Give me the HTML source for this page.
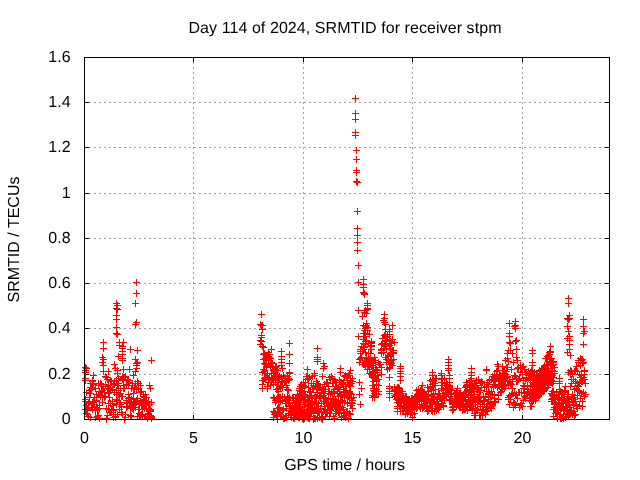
<!DOCTYPE html>
<html><head><meta charset="utf-8"><title>Day 114 of 2024, SRMTID for receiver stpm</title>
<style>
html,body{margin:0;padding:0;background:#fff;}
body{width:640px;height:480px;overflow:hidden;}
svg{display:block;}
text{font-family:"Liberation Sans",Arial,sans-serif;font-size:16px;fill:#000;text-rendering:geometricPrecision;}
</style></head><body>
<svg width="640" height="480" viewBox="0 0 640 480">
<rect width="640" height="480" fill="#fff"/>

<g stroke="#a0a0a0" stroke-width="1" stroke-dasharray="2 3" shape-rendering="crispEdges" fill="none">
<path d="M84,374.5H609"/>
<path d="M84,328.5H609"/>
<path d="M84,283.5H609"/>
<path d="M84,238.5H609"/>
<path d="M84,193.5H609"/>
<path d="M84,147.5H609"/>
<path d="M84,102.5H609"/>
<path d="M193.5,57V419"/>
<path d="M303.5,57V419"/>
<path d="M412.5,57V419"/>
<path d="M522.5,57V419"/>
</g>
<g stroke="#000" stroke-width="1" shape-rendering="crispEdges" fill="none">
<path d="M84,419.5h5M610,419.5h-5"/>
<path d="M84,374.5h5M610,374.5h-5"/>
<path d="M84,328.5h5M610,328.5h-5"/>
<path d="M84,283.5h5M610,283.5h-5"/>
<path d="M84,238.5h5M610,238.5h-5"/>
<path d="M84,193.5h5M610,193.5h-5"/>
<path d="M84,147.5h5M610,147.5h-5"/>
<path d="M84,102.5h5M610,102.5h-5"/>
<path d="M84,57.5h5M610,57.5h-5"/>
<path d="M84.5,420v-5M84.5,57v5"/>
<path d="M193.5,420v-5M193.5,57v5"/>
<path d="M303.5,420v-5M303.5,57v5"/>
<path d="M412.5,420v-5M412.5,57v5"/>
<path d="M522.5,420v-5M522.5,57v5"/>
</g>
<g stroke="#f00" stroke-width="1" shape-rendering="crispEdges" fill="none"><path d="
M82,367.5h7M85.5,364v7M82,370.5h7M85.5,367v7M82,372.5h7M85.5,369v7M82,378.5h7M85.5,375v7M82,380.5h7M85.5,377v7M82,399.5h7M85.5,396v7M82,401.5h7M85.5,398v7M82,409.5h7M85.5,406v7M83,368.5h7M86.5,365v7M83,392.5h7M86.5,389v7M83,405.5h7M86.5,402v7M83,413.5h7M86.5,410v7M84,408.5h7M87.5,405v7M84,410.5h7M87.5,407v7M84,414.5h7M87.5,411v7M85,402.5h7M88.5,399v7M85,403.5h7M88.5,400v7M85,416.5h7M88.5,413v7M86,390.5h7M89.5,387v7M86,397.5h7M89.5,394v7M86,402.5h7M89.5,399v7M87,383.5h7M90.5,380v7M87,387.5h7M90.5,384v7M87,393.5h7M90.5,390v7M87,417.5h7M90.5,414v7M88,387.5h7M91.5,384v7M88,389.5h7M91.5,386v7M88,407.5h7M91.5,404v7M89,380.5h7M92.5,377v7M89,381.5h7M92.5,378v7M89,383.5h7M92.5,380v7M89,402.5h7M92.5,399v7M89,409.5h7M92.5,406v7M90,375.5h7M93.5,372v7M90,384.5h7M93.5,381v7M90,401.5h7M93.5,398v7M90,404.5h7M93.5,401v7M91,397.5h7M94.5,394v7M91,404.5h7M94.5,401v7M91,406.5h7M94.5,403v7M92,388.5h7M95.5,385v7M92,410.5h7M95.5,407v7M92,417.5h7M95.5,414v7M93,394.5h7M96.5,391v7M93,400.5h7M96.5,397v7M93,401.5h7M96.5,398v7M93,407.5h7M96.5,404v7M94,409.5h7M97.5,406v7M94,416.5h7M97.5,413v7M95,383.5h7M98.5,380v7M95,385.5h7M98.5,382v7M95,394.5h7M98.5,391v7M95,415.5h7M98.5,412v7M96,391.5h7M99.5,388v7M96,405.5h7M99.5,402v7M96,408.5h7M99.5,405v7M96,418.5h7M99.5,415v7M97,383.5h7M100.5,380v7M97,395.5h7M100.5,392v7M97,396.5h7M100.5,393v7M98,384.5h7M101.5,381v7M98,391.5h7M101.5,388v7M98,392.5h7M101.5,389v7M99,357.5h7M102.5,354v7M99,362.5h7M102.5,359v7M99,390.5h7M102.5,387v7M99,397.5h7M102.5,394v7M99,402.5h7M102.5,399v7M100,342.5h7M103.5,339v7M100,348.5h7M103.5,345v7M100,359.5h7M103.5,356v7M100,365.5h7M103.5,362v7M100,371.5h7M103.5,368v7M100,386.5h7M103.5,383v7M101,392.5h7M104.5,389v7M101,397.5h7M104.5,394v7M102,376.5h7M105.5,373v7M102,384.5h7M105.5,381v7M102,396.5h7M105.5,393v7M103,377.5h7M106.5,374v7M103,408.5h7M106.5,405v7M103,418.5h7M106.5,415v7M103,419.5h7M106.5,416v7M104,379.5h7M107.5,376v7M104,388.5h7M107.5,385v7M104,415.5h7M107.5,412v7M105,371.5h7M108.5,368v7M105,385.5h7M108.5,382v7M105,393.5h7M108.5,390v7M105,403.5h7M108.5,400v7M105,409.5h7M108.5,406v7M106,388.5h7M109.5,385v7M106,389.5h7M109.5,386v7M106,397.5h7M109.5,394v7M106,412.5h7M109.5,409v7M107,380.5h7M110.5,377v7M107,387.5h7M110.5,384v7M107,390.5h7M110.5,387v7M107,403.5h7M110.5,400v7M107,412.5h7M110.5,409v7M108,381.5h7M111.5,378v7M108,409.5h7M111.5,406v7M108,412.5h7M111.5,409v7M109,389.5h7M112.5,386v7M109,401.5h7M112.5,398v7M109,403.5h7M112.5,400v7M109,405.5h7M112.5,402v7M110,383.5h7M113.5,380v7M110,409.5h7M113.5,406v7M110,410.5h7M113.5,407v7M110,417.5h7M113.5,414v7M111,364.5h7M114.5,361v7M111,381.5h7M114.5,378v7M111,384.5h7M114.5,381v7M111,392.5h7M114.5,389v7M112,368.5h7M115.5,365v7M112,414.5h7M115.5,411v7M112,416.5h7M115.5,413v7M112,417.5h7M115.5,414v7M113,303.5h7M116.5,300v7M113,308.5h7M116.5,305v7M113,315.5h7M116.5,312v7M113,319.5h7M116.5,316v7M113,327.5h7M116.5,324v7M113,333.5h7M116.5,330v7M113,380.5h7M116.5,377v7M113,390.5h7M116.5,387v7M113,394.5h7M116.5,391v7M113,399.5h7M116.5,396v7M113,404.5h7M116.5,401v7M114,305.5h7M117.5,302v7M114,309.5h7M117.5,306v7M114,334.5h7M117.5,331v7M114,370.5h7M117.5,367v7M114,373.5h7M117.5,370v7M114,385.5h7M117.5,382v7M114,400.5h7M117.5,397v7M114,414.5h7M117.5,411v7M115,356.5h7M118.5,353v7M115,378.5h7M118.5,375v7M115,383.5h7M118.5,380v7M115,390.5h7M118.5,387v7M115,394.5h7M118.5,391v7M116,342.5h7M119.5,339v7M116,345.5h7M119.5,342v7M116,395.5h7M119.5,392v7M116,402.5h7M119.5,399v7M116,409.5h7M119.5,406v7M117,388.5h7M120.5,385v7M117,393.5h7M120.5,390v7M117,404.5h7M120.5,401v7M118,396.5h7M121.5,393v7M118,406.5h7M121.5,403v7M118,412.5h7M121.5,409v7M119,346.5h7M122.5,343v7M119,348.5h7M122.5,345v7M119,351.5h7M122.5,348v7M119,354.5h7M122.5,351v7M119,358.5h7M122.5,355v7M119,360.5h7M122.5,357v7M119,376.5h7M122.5,373v7M119,379.5h7M122.5,376v7M119,396.5h7M122.5,393v7M119,414.5h7M122.5,411v7M120,342.5h7M123.5,339v7M120,369.5h7M123.5,366v7M120,377.5h7M123.5,374v7M120,380.5h7M123.5,377v7M120,385.5h7M123.5,382v7M120,388.5h7M123.5,385v7M121,377.5h7M124.5,374v7M121,388.5h7M124.5,385v7M121,419.5h7M124.5,416v7M122,376.5h7M125.5,373v7M122,414.5h7M125.5,411v7M122,417.5h7M125.5,414v7M123,384.5h7M126.5,381v7M123,400.5h7M126.5,397v7M123,402.5h7M126.5,399v7M123,407.5h7M126.5,404v7M124,379.5h7M127.5,376v7M124,380.5h7M127.5,377v7M124,403.5h7M127.5,400v7M124,406.5h7M127.5,403v7M125,380.5h7M128.5,377v7M125,385.5h7M128.5,382v7M125,394.5h7M128.5,391v7M125,398.5h7M128.5,395v7M125,400.5h7M128.5,397v7M126,369.5h7M129.5,366v7M126,382.5h7M129.5,379v7M126,397.5h7M129.5,394v7M126,403.5h7M129.5,400v7M127,349.5h7M130.5,346v7M127,402.5h7M130.5,399v7M127,405.5h7M130.5,402v7M127,408.5h7M130.5,405v7M127,415.5h7M130.5,412v7M128,388.5h7M131.5,385v7M128,399.5h7M131.5,396v7M128,407.5h7M131.5,404v7M128,416.5h7M131.5,413v7M129,383.5h7M132.5,380v7M129,385.5h7M132.5,382v7M129,405.5h7M132.5,402v7M129,408.5h7M132.5,405v7M130,375.5h7M133.5,372v7M130,393.5h7M133.5,390v7M130,398.5h7M133.5,395v7M130,401.5h7M133.5,398v7M130,409.5h7M133.5,406v7M131,387.5h7M134.5,384v7M131,389.5h7M134.5,386v7M131,404.5h7M134.5,401v7M132,303.5h7M135.5,300v7M132,324.5h7M135.5,321v7M132,359.5h7M135.5,356v7M132,371.5h7M135.5,368v7M132,383.5h7M135.5,380v7M132,402.5h7M135.5,399v7M132,407.5h7M135.5,404v7M133,282.5h7M136.5,279v7M133,293.5h7M136.5,290v7M133,322.5h7M136.5,319v7M133,363.5h7M136.5,360v7M133,365.5h7M136.5,362v7M133,368.5h7M136.5,365v7M133,388.5h7M136.5,385v7M133,389.5h7M136.5,386v7M133,400.5h7M136.5,397v7M133,402.5h7M136.5,399v7M134,350.5h7M137.5,347v7M134,362.5h7M137.5,359v7M134,381.5h7M137.5,378v7M134,398.5h7M137.5,395v7M134,416.5h7M137.5,413v7M135,383.5h7M138.5,380v7M135,389.5h7M138.5,386v7M135,409.5h7M138.5,406v7M136,403.5h7M139.5,400v7M136,409.5h7M139.5,406v7M136,413.5h7M139.5,410v7M136,416.5h7M139.5,413v7M137,385.5h7M140.5,382v7M137,392.5h7M140.5,389v7M137,401.5h7M140.5,398v7M137,415.5h7M140.5,412v7M138,391.5h7M141.5,388v7M138,404.5h7M141.5,401v7M138,414.5h7M141.5,411v7M139,409.5h7M142.5,406v7M139,415.5h7M142.5,412v7M139,416.5h7M142.5,413v7M140,396.5h7M143.5,393v7M140,399.5h7M143.5,396v7M140,405.5h7M143.5,402v7M141,397.5h7M144.5,394v7M141,400.5h7M144.5,397v7M141,405.5h7M144.5,402v7M141,408.5h7M144.5,405v7M142,394.5h7M145.5,391v7M142,401.5h7M145.5,398v7M142,402.5h7M145.5,399v7M142,404.5h7M145.5,401v7M143,397.5h7M146.5,394v7M143,403.5h7M146.5,400v7M143,408.5h7M146.5,405v7M144,414.5h7M147.5,411v7M144,417.5h7M147.5,414v7M144,418.5h7M147.5,415v7M145,401.5h7M148.5,398v7M145,408.5h7M148.5,405v7M145,413.5h7M148.5,410v7M146,385.5h7M149.5,382v7M146,404.5h7M149.5,401v7M146,411.5h7M149.5,408v7M146,416.5h7M149.5,413v7M147,388.5h7M150.5,385v7M147,409.5h7M150.5,406v7M147,410.5h7M150.5,407v7M147,411.5h7M150.5,408v7M147,415.5h7M150.5,412v7M148,360.5h7M151.5,357v7M148,402.5h7M151.5,399v7M148,416.5h7M151.5,413v7M148,417.5h7M151.5,414v7M148,418.5h7M151.5,415v7M257,324.5h7M260.5,321v7M257,340.5h7M260.5,337v7M257,344.5h7M260.5,341v7M258,314.5h7M261.5,311v7M258,325.5h7M261.5,322v7M258,335.5h7M261.5,332v7M258,337.5h7M261.5,334v7M258,341.5h7M261.5,338v7M259,325.5h7M262.5,322v7M259,329.5h7M262.5,326v7M259,346.5h7M262.5,343v7M259,372.5h7M262.5,369v7M259,380.5h7M262.5,377v7M259,384.5h7M262.5,381v7M259,388.5h7M262.5,385v7M260,347.5h7M263.5,344v7M260,354.5h7M263.5,351v7M260,359.5h7M263.5,356v7M260,369.5h7M263.5,366v7M260,380.5h7M263.5,377v7M261,353.5h7M264.5,350v7M261,363.5h7M264.5,360v7M261,371.5h7M264.5,368v7M261,378.5h7M264.5,375v7M262,358.5h7M265.5,355v7M262,364.5h7M265.5,361v7M262,373.5h7M265.5,370v7M262,377.5h7M265.5,374v7M262,378.5h7M265.5,375v7M263,360.5h7M266.5,357v7M263,364.5h7M266.5,361v7M263,367.5h7M266.5,364v7M263,377.5h7M266.5,374v7M264,355.5h7M267.5,352v7M264,357.5h7M267.5,354v7M264,373.5h7M267.5,370v7M264,386.5h7M267.5,383v7M264,388.5h7M267.5,385v7M265,352.5h7M268.5,349v7M265,356.5h7M268.5,353v7M265,360.5h7M268.5,357v7M265,378.5h7M268.5,375v7M265,382.5h7M268.5,379v7M266,354.5h7M269.5,351v7M266,357.5h7M269.5,354v7M266,377.5h7M269.5,374v7M266,379.5h7M269.5,376v7M267,358.5h7M270.5,355v7M267,365.5h7M270.5,362v7M267,366.5h7M270.5,363v7M267,367.5h7M270.5,364v7M267,385.5h7M270.5,382v7M268,349.5h7M271.5,346v7M268,362.5h7M271.5,359v7M268,373.5h7M271.5,370v7M268,377.5h7M271.5,374v7M268,380.5h7M271.5,377v7M269,363.5h7M272.5,360v7M269,367.5h7M272.5,364v7M269,378.5h7M272.5,375v7M270,370.5h7M273.5,367v7M270,373.5h7M273.5,370v7M270,382.5h7M273.5,379v7M270,384.5h7M273.5,381v7M270,397.5h7M273.5,394v7M270,411.5h7M273.5,408v7M270,417.5h7M273.5,414v7M271,369.5h7M274.5,366v7M271,371.5h7M274.5,368v7M271,373.5h7M274.5,370v7M271,377.5h7M274.5,374v7M271,398.5h7M274.5,395v7M271,412.5h7M274.5,409v7M271,414.5h7M274.5,411v7M272,367.5h7M275.5,364v7M272,369.5h7M275.5,366v7M272,372.5h7M275.5,369v7M272,380.5h7M275.5,377v7M272,400.5h7M275.5,397v7M272,402.5h7M275.5,399v7M272,413.5h7M275.5,410v7M273,366.5h7M276.5,363v7M273,370.5h7M276.5,367v7M273,377.5h7M276.5,374v7M273,389.5h7M276.5,386v7M273,399.5h7M276.5,396v7M273,400.5h7M276.5,397v7M273,415.5h7M276.5,412v7M274,370.5h7M277.5,367v7M274,376.5h7M277.5,373v7M274,382.5h7M277.5,379v7M274,389.5h7M277.5,386v7M274,397.5h7M277.5,394v7M274,408.5h7M277.5,405v7M274,419.5h7M277.5,416v7M275,377.5h7M278.5,374v7M275,385.5h7M278.5,382v7M275,388.5h7M278.5,385v7M275,391.5h7M278.5,388v7M275,398.5h7M278.5,395v7M275,402.5h7M278.5,399v7M275,408.5h7M278.5,405v7M276,376.5h7M279.5,373v7M276,378.5h7M279.5,375v7M276,379.5h7M279.5,376v7M276,397.5h7M279.5,394v7M276,407.5h7M279.5,404v7M276,412.5h7M279.5,409v7M277,386.5h7M280.5,383v7M277,387.5h7M280.5,384v7M277,397.5h7M280.5,394v7M277,401.5h7M280.5,398v7M277,414.5h7M280.5,411v7M278,351.5h7M281.5,348v7M278,356.5h7M281.5,353v7M278,359.5h7M281.5,356v7M278,362.5h7M281.5,359v7M278,365.5h7M281.5,362v7M278,377.5h7M281.5,374v7M278,381.5h7M281.5,378v7M278,416.5h7M281.5,413v7M279,368.5h7M282.5,365v7M279,385.5h7M282.5,382v7M279,387.5h7M282.5,384v7M279,396.5h7M282.5,393v7M279,400.5h7M282.5,397v7M279,410.5h7M282.5,407v7M280,375.5h7M283.5,372v7M280,409.5h7M283.5,406v7M280,417.5h7M283.5,414v7M280,418.5h7M283.5,415v7M281,380.5h7M284.5,377v7M281,382.5h7M284.5,379v7M281,397.5h7M284.5,394v7M281,418.5h7M284.5,415v7M282,380.5h7M285.5,377v7M282,381.5h7M285.5,378v7M282,399.5h7M285.5,396v7M282,403.5h7M285.5,400v7M282,417.5h7M285.5,414v7M283,381.5h7M286.5,378v7M283,385.5h7M286.5,382v7M283,401.5h7M286.5,398v7M283,408.5h7M286.5,405v7M283,417.5h7M286.5,414v7M284,376.5h7M287.5,373v7M284,389.5h7M287.5,386v7M284,396.5h7M287.5,393v7M284,398.5h7M287.5,395v7M284,399.5h7M287.5,396v7M285,378.5h7M288.5,375v7M285,380.5h7M288.5,377v7M285,390.5h7M288.5,387v7M285,398.5h7M288.5,395v7M285,403.5h7M288.5,400v7M285,413.5h7M288.5,410v7M286,343.5h7M289.5,340v7M286,354.5h7M289.5,351v7M286,363.5h7M289.5,360v7M286,372.5h7M289.5,369v7M286,373.5h7M289.5,370v7M286,379.5h7M289.5,376v7M286,397.5h7M289.5,394v7M286,400.5h7M289.5,397v7M286,402.5h7M289.5,399v7M286,406.5h7M289.5,403v7M286,410.5h7M289.5,407v7M287,405.5h7M290.5,402v7M287,406.5h7M290.5,403v7M287,410.5h7M290.5,407v7M287,413.5h7M290.5,410v7M287,415.5h7M290.5,412v7M288,410.5h7M291.5,407v7M288,411.5h7M291.5,408v7M288,414.5h7M291.5,411v7M288,417.5h7M291.5,414v7M289,397.5h7M292.5,394v7M289,406.5h7M292.5,403v7M289,407.5h7M292.5,404v7M289,408.5h7M292.5,405v7M289,411.5h7M292.5,408v7M290,397.5h7M293.5,394v7M290,400.5h7M293.5,397v7M290,409.5h7M293.5,406v7M290,415.5h7M293.5,412v7M290,418.5h7M293.5,415v7M291,403.5h7M294.5,400v7M291,406.5h7M294.5,403v7M291,411.5h7M294.5,408v7M291,414.5h7M294.5,411v7M291,418.5h7M294.5,415v7M292,398.5h7M295.5,395v7M292,400.5h7M295.5,397v7M292,402.5h7M295.5,399v7M292,410.5h7M295.5,407v7M293,398.5h7M296.5,395v7M293,401.5h7M296.5,398v7M293,406.5h7M296.5,403v7M293,414.5h7M296.5,411v7M293,416.5h7M296.5,413v7M294,394.5h7M297.5,391v7M294,400.5h7M297.5,397v7M294,403.5h7M297.5,400v7M294,404.5h7M297.5,401v7M294,411.5h7M297.5,408v7M295,397.5h7M298.5,394v7M295,398.5h7M298.5,395v7M295,406.5h7M298.5,403v7M295,415.5h7M298.5,412v7M295,417.5h7M298.5,414v7M296,388.5h7M299.5,385v7M296,390.5h7M299.5,387v7M296,398.5h7M299.5,395v7M296,402.5h7M299.5,399v7M296,411.5h7M299.5,408v7M296,413.5h7M299.5,410v7M296,417.5h7M299.5,414v7M297,386.5h7M300.5,383v7M297,391.5h7M300.5,388v7M297,393.5h7M300.5,390v7M297,404.5h7M300.5,401v7M297,406.5h7M300.5,403v7M297,410.5h7M300.5,407v7M297,413.5h7M300.5,410v7M297,415.5h7M300.5,412v7M298,384.5h7M301.5,381v7M298,390.5h7M301.5,387v7M298,398.5h7M301.5,395v7M298,399.5h7M301.5,396v7M298,409.5h7M301.5,406v7M298,414.5h7M301.5,411v7M298,415.5h7M301.5,412v7M299,388.5h7M302.5,385v7M299,391.5h7M302.5,388v7M299,394.5h7M302.5,391v7M299,407.5h7M302.5,404v7M299,409.5h7M302.5,406v7M299,410.5h7M302.5,407v7M299,418.5h7M302.5,415v7M300,382.5h7M303.5,379v7M300,385.5h7M303.5,382v7M300,394.5h7M303.5,391v7M300,400.5h7M303.5,397v7M300,412.5h7M303.5,409v7M300,416.5h7M303.5,413v7M300,419.5h7M303.5,416v7M301,386.5h7M304.5,383v7M301,394.5h7M304.5,391v7M301,399.5h7M304.5,396v7M301,406.5h7M304.5,403v7M301,410.5h7M304.5,407v7M301,416.5h7M304.5,413v7M301,418.5h7M304.5,415v7M302,382.5h7M305.5,379v7M302,395.5h7M305.5,392v7M302,396.5h7M305.5,393v7M302,397.5h7M305.5,394v7M302,402.5h7M305.5,399v7M302,415.5h7M305.5,412v7M303,376.5h7M306.5,373v7M303,411.5h7M306.5,408v7M303,412.5h7M306.5,409v7M303,414.5h7M306.5,411v7M303,415.5h7M306.5,412v7M303,416.5h7M306.5,413v7M304,369.5h7M307.5,366v7M304,376.5h7M307.5,373v7M304,379.5h7M307.5,376v7M304,400.5h7M307.5,397v7M304,402.5h7M307.5,399v7M304,406.5h7M307.5,403v7M304,417.5h7M307.5,414v7M305,378.5h7M308.5,375v7M305,387.5h7M308.5,384v7M305,401.5h7M308.5,398v7M305,405.5h7M308.5,402v7M305,413.5h7M308.5,410v7M305,418.5h7M308.5,415v7M306,377.5h7M309.5,374v7M306,391.5h7M309.5,388v7M306,397.5h7M309.5,394v7M306,404.5h7M309.5,401v7M306,408.5h7M309.5,405v7M306,412.5h7M309.5,409v7M306,418.5h7M309.5,415v7M307,391.5h7M310.5,388v7M307,392.5h7M310.5,389v7M307,405.5h7M310.5,402v7M307,407.5h7M310.5,404v7M307,411.5h7M310.5,408v7M307,416.5h7M310.5,413v7M308,383.5h7M311.5,380v7M308,396.5h7M311.5,393v7M308,398.5h7M311.5,395v7M308,403.5h7M311.5,400v7M308,409.5h7M311.5,406v7M308,412.5h7M311.5,409v7M309,376.5h7M312.5,373v7M309,389.5h7M312.5,386v7M309,401.5h7M312.5,398v7M309,404.5h7M312.5,401v7M309,408.5h7M312.5,405v7M310,385.5h7M313.5,382v7M310,387.5h7M313.5,384v7M310,413.5h7M313.5,410v7M310,416.5h7M313.5,413v7M310,419.5h7M313.5,416v7M311,373.5h7M314.5,370v7M311,375.5h7M314.5,372v7M311,397.5h7M314.5,394v7M311,408.5h7M314.5,405v7M311,418.5h7M314.5,415v7M312,386.5h7M315.5,383v7M312,395.5h7M315.5,392v7M312,397.5h7M315.5,394v7M312,409.5h7M315.5,406v7M312,418.5h7M315.5,415v7M313,381.5h7M316.5,378v7M313,388.5h7M316.5,385v7M313,397.5h7M316.5,394v7M313,402.5h7M316.5,399v7M313,410.5h7M316.5,407v7M314,348.5h7M317.5,345v7M314,357.5h7M317.5,354v7M314,359.5h7M317.5,356v7M314,361.5h7M317.5,358v7M314,383.5h7M317.5,380v7M314,392.5h7M317.5,389v7M314,406.5h7M317.5,403v7M314,412.5h7M317.5,409v7M314,418.5h7M317.5,415v7M315,384.5h7M318.5,381v7M315,387.5h7M318.5,384v7M315,403.5h7M318.5,400v7M315,408.5h7M318.5,405v7M315,412.5h7M318.5,409v7M316,387.5h7M319.5,384v7M316,395.5h7M319.5,392v7M316,396.5h7M319.5,393v7M316,412.5h7M319.5,409v7M316,417.5h7M319.5,414v7M317,387.5h7M320.5,384v7M317,397.5h7M320.5,394v7M317,398.5h7M320.5,395v7M317,408.5h7M320.5,405v7M318,392.5h7M321.5,389v7M318,393.5h7M321.5,390v7M318,403.5h7M321.5,400v7M318,411.5h7M321.5,408v7M318,418.5h7M321.5,415v7M319,376.5h7M322.5,373v7M319,388.5h7M322.5,385v7M319,416.5h7M322.5,413v7M319,417.5h7M322.5,414v7M319,419.5h7M322.5,416v7M320,363.5h7M323.5,360v7M320,368.5h7M323.5,365v7M320,389.5h7M323.5,386v7M320,395.5h7M323.5,392v7M320,401.5h7M323.5,398v7M320,411.5h7M323.5,408v7M321,366.5h7M324.5,363v7M321,384.5h7M324.5,381v7M321,393.5h7M324.5,390v7M321,397.5h7M324.5,394v7M321,406.5h7M324.5,403v7M321,409.5h7M324.5,406v7M322,389.5h7M325.5,386v7M322,398.5h7M325.5,395v7M322,409.5h7M325.5,406v7M322,416.5h7M325.5,413v7M323,382.5h7M326.5,379v7M323,402.5h7M326.5,399v7M323,412.5h7M326.5,409v7M323,413.5h7M326.5,410v7M324,383.5h7M327.5,380v7M324,403.5h7M327.5,400v7M324,406.5h7M327.5,403v7M324,413.5h7M327.5,410v7M325,386.5h7M328.5,383v7M325,391.5h7M328.5,388v7M325,398.5h7M328.5,395v7M325,403.5h7M328.5,400v7M325,405.5h7M328.5,402v7M326,377.5h7M329.5,374v7M326,391.5h7M329.5,388v7M326,406.5h7M329.5,403v7M326,410.5h7M329.5,407v7M326,416.5h7M329.5,413v7M327,379.5h7M330.5,376v7M327,394.5h7M330.5,391v7M327,399.5h7M330.5,396v7M327,410.5h7M330.5,407v7M327,413.5h7M330.5,410v7M328,376.5h7M331.5,373v7M328,392.5h7M331.5,389v7M328,402.5h7M331.5,399v7M328,409.5h7M331.5,406v7M329,378.5h7M332.5,375v7M329,383.5h7M332.5,380v7M329,398.5h7M332.5,395v7M329,405.5h7M332.5,402v7M330,383.5h7M333.5,380v7M330,391.5h7M333.5,388v7M330,399.5h7M333.5,396v7M330,404.5h7M333.5,401v7M330,416.5h7M333.5,413v7M331,379.5h7M334.5,376v7M331,389.5h7M334.5,386v7M331,392.5h7M334.5,389v7M331,393.5h7M334.5,390v7M331,405.5h7M334.5,402v7M331,418.5h7M334.5,415v7M332,382.5h7M335.5,379v7M332,386.5h7M335.5,383v7M332,400.5h7M335.5,397v7M332,407.5h7M335.5,404v7M332,413.5h7M335.5,410v7M333,382.5h7M336.5,379v7M333,401.5h7M336.5,398v7M333,403.5h7M336.5,400v7M333,406.5h7M336.5,403v7M333,411.5h7M336.5,408v7M334,388.5h7M337.5,385v7M334,389.5h7M337.5,386v7M334,391.5h7M337.5,388v7M334,402.5h7M337.5,399v7M334,404.5h7M337.5,401v7M335,387.5h7M338.5,384v7M335,396.5h7M338.5,393v7M335,402.5h7M338.5,399v7M335,409.5h7M338.5,406v7M335,412.5h7M338.5,409v7M336,380.5h7M339.5,377v7M336,391.5h7M339.5,388v7M336,406.5h7M339.5,403v7M336,410.5h7M339.5,407v7M336,413.5h7M339.5,410v7M337,368.5h7M340.5,365v7M337,372.5h7M340.5,369v7M337,382.5h7M340.5,379v7M337,386.5h7M340.5,383v7M337,394.5h7M340.5,391v7M337,395.5h7M340.5,392v7M337,400.5h7M340.5,397v7M337,408.5h7M340.5,405v7M338,382.5h7M341.5,379v7M338,396.5h7M341.5,393v7M338,400.5h7M341.5,397v7M338,417.5h7M341.5,414v7M339,383.5h7M342.5,380v7M339,384.5h7M342.5,381v7M339,400.5h7M342.5,397v7M339,401.5h7M342.5,398v7M339,407.5h7M342.5,404v7M340,382.5h7M343.5,379v7M340,389.5h7M343.5,386v7M340,392.5h7M343.5,389v7M340,409.5h7M343.5,406v7M340,416.5h7M343.5,413v7M341,376.5h7M344.5,373v7M341,391.5h7M344.5,388v7M341,397.5h7M344.5,394v7M341,402.5h7M344.5,399v7M341,412.5h7M344.5,409v7M341,415.5h7M344.5,412v7M342,375.5h7M345.5,372v7M342,386.5h7M345.5,383v7M342,391.5h7M345.5,388v7M342,392.5h7M345.5,389v7M342,415.5h7M345.5,412v7M342,417.5h7M345.5,414v7M343,377.5h7M346.5,374v7M343,390.5h7M346.5,387v7M343,391.5h7M346.5,388v7M343,394.5h7M346.5,391v7M343,411.5h7M346.5,408v7M344,376.5h7M347.5,373v7M344,380.5h7M347.5,377v7M344,396.5h7M347.5,393v7M344,403.5h7M347.5,400v7M344,411.5h7M347.5,408v7M345,375.5h7M348.5,372v7M345,384.5h7M348.5,381v7M345,396.5h7M348.5,393v7M345,414.5h7M348.5,411v7M345,418.5h7M348.5,415v7M346,373.5h7M349.5,370v7M346,385.5h7M349.5,382v7M346,391.5h7M349.5,388v7M346,392.5h7M349.5,389v7M346,398.5h7M349.5,395v7M346,413.5h7M349.5,410v7M347,370.5h7M350.5,367v7M347,380.5h7M350.5,377v7M347,386.5h7M350.5,383v7M347,393.5h7M350.5,390v7M347,405.5h7M350.5,402v7M347,414.5h7M350.5,411v7M348,381.5h7M351.5,378v7M348,383.5h7M351.5,380v7M348,394.5h7M351.5,391v7M348,398.5h7M351.5,395v7M348,402.5h7M351.5,399v7M348,405.5h7M351.5,402v7M349,378.5h7M352.5,375v7M349,381.5h7M352.5,378v7M349,400.5h7M352.5,397v7M349,403.5h7M352.5,400v7M349,408.5h7M352.5,405v7M350,397.5h7M353.5,394v7M352,98.5h7M355.5,95v7M352,113.5h7M355.5,110v7M352,119.5h7M355.5,116v7M352,132.5h7M355.5,129v7M352,135.5h7M355.5,132v7M353,150.5h7M356.5,147v7M353,159.5h7M356.5,156v7M353,170.5h7M356.5,167v7M353,172.5h7M356.5,169v7M353,181.5h7M356.5,178v7M354,182.5h7M357.5,179v7M354,211.5h7M357.5,208v7M354,228.5h7M357.5,225v7M354,235.5h7M357.5,232v7M354,242.5h7M357.5,239v7M354,250.5h7M357.5,247v7M355,265.5h7M358.5,262v7M355,282.5h7M358.5,279v7M355,310.5h7M358.5,307v7M355,336.5h7M358.5,333v7M356,359.5h7M359.5,356v7M356,362.5h7M359.5,359v7M356,382.5h7M359.5,379v7M356,394.5h7M359.5,391v7M357,349.5h7M360.5,346v7M357,351.5h7M360.5,348v7M357,353.5h7M360.5,350v7M357,358.5h7M360.5,355v7M357,404.5h7M360.5,401v7M358,346.5h7M361.5,343v7M358,357.5h7M361.5,354v7M358,388.5h7M361.5,385v7M359,316.5h7M362.5,313v7M359,351.5h7M362.5,348v7M359,362.5h7M362.5,359v7M360,279.5h7M363.5,276v7M360,284.5h7M363.5,281v7M360,287.5h7M363.5,284v7M360,292.5h7M363.5,289v7M360,325.5h7M363.5,322v7M360,333.5h7M363.5,330v7M360,339.5h7M363.5,336v7M360,343.5h7M363.5,340v7M360,346.5h7M363.5,343v7M360,349.5h7M363.5,346v7M360,364.5h7M363.5,361v7M361,293.5h7M364.5,290v7M361,294.5h7M364.5,291v7M361,312.5h7M364.5,309v7M361,330.5h7M364.5,327v7M361,336.5h7M364.5,333v7M361,347.5h7M364.5,344v7M361,360.5h7M364.5,357v7M361,364.5h7M364.5,361v7M362,310.5h7M365.5,307v7M362,326.5h7M365.5,323v7M362,328.5h7M365.5,325v7M362,333.5h7M365.5,330v7M362,336.5h7M365.5,333v7M362,341.5h7M365.5,338v7M362,343.5h7M365.5,340v7M362,344.5h7M365.5,341v7M362,352.5h7M365.5,349v7M362,366.5h7M365.5,363v7M363,313.5h7M366.5,310v7M363,323.5h7M366.5,320v7M363,325.5h7M366.5,322v7M363,340.5h7M366.5,337v7M363,357.5h7M366.5,354v7M363,358.5h7M366.5,355v7M363,360.5h7M366.5,357v7M364,303.5h7M367.5,300v7M364,305.5h7M367.5,302v7M364,308.5h7M367.5,305v7M364,309.5h7M367.5,306v7M364,327.5h7M367.5,324v7M364,330.5h7M367.5,327v7M364,369.5h7M367.5,366v7M365,353.5h7M368.5,350v7M365,358.5h7M368.5,355v7M365,359.5h7M368.5,356v7M365,361.5h7M368.5,358v7M365,362.5h7M368.5,359v7M365,363.5h7M368.5,360v7M365,365.5h7M368.5,362v7M365,366.5h7M368.5,363v7M366,334.5h7M369.5,331v7M366,359.5h7M369.5,356v7M366,363.5h7M369.5,360v7M366,369.5h7M369.5,366v7M366,373.5h7M369.5,370v7M367,346.5h7M370.5,343v7M367,353.5h7M370.5,350v7M367,358.5h7M370.5,355v7M367,360.5h7M370.5,357v7M367,362.5h7M370.5,359v7M367,363.5h7M370.5,360v7M368,341.5h7M371.5,338v7M368,342.5h7M371.5,339v7M368,343.5h7M371.5,340v7M368,345.5h7M371.5,342v7M368,346.5h7M371.5,343v7M368,349.5h7M371.5,346v7M368,365.5h7M371.5,362v7M368,374.5h7M371.5,371v7M369,360.5h7M372.5,357v7M369,361.5h7M372.5,358v7M369,363.5h7M372.5,360v7M369,369.5h7M372.5,366v7M369,372.5h7M372.5,369v7M369,373.5h7M372.5,370v7M369,377.5h7M372.5,374v7M369,385.5h7M372.5,382v7M369,395.5h7M372.5,392v7M369,397.5h7M372.5,394v7M370,360.5h7M373.5,357v7M370,367.5h7M373.5,364v7M370,371.5h7M373.5,368v7M370,373.5h7M373.5,370v7M370,375.5h7M373.5,372v7M370,376.5h7M373.5,373v7M370,377.5h7M373.5,374v7M370,381.5h7M373.5,378v7M370,388.5h7M373.5,385v7M370,390.5h7M373.5,387v7M371,357.5h7M374.5,354v7M371,378.5h7M374.5,375v7M371,388.5h7M374.5,385v7M371,390.5h7M374.5,387v7M371,391.5h7M374.5,388v7M371,393.5h7M374.5,390v7M371,396.5h7M374.5,393v7M371,397.5h7M374.5,394v7M372,360.5h7M375.5,357v7M372,362.5h7M375.5,359v7M372,367.5h7M375.5,364v7M372,375.5h7M375.5,372v7M372,378.5h7M375.5,375v7M372,394.5h7M375.5,391v7M373,369.5h7M376.5,366v7M373,380.5h7M376.5,377v7M373,381.5h7M376.5,378v7M373,384.5h7M376.5,381v7M373,389.5h7M376.5,386v7M373,393.5h7M376.5,390v7M374,370.5h7M377.5,367v7M374,372.5h7M377.5,369v7M374,375.5h7M377.5,372v7M375,362.5h7M378.5,359v7M375,379.5h7M378.5,376v7M375,385.5h7M378.5,382v7M375,391.5h7M378.5,388v7M375,394.5h7M378.5,391v7M376,364.5h7M379.5,361v7M377,364.5h7M380.5,361v7M378,344.5h7M381.5,341v7M378,349.5h7M381.5,346v7M378,350.5h7M381.5,347v7M378,352.5h7M381.5,349v7M378,353.5h7M381.5,350v7M378,367.5h7M381.5,364v7M378,374.5h7M381.5,371v7M379,338.5h7M382.5,335v7M379,343.5h7M382.5,340v7M380,320.5h7M383.5,317v7M380,348.5h7M383.5,345v7M380,349.5h7M383.5,346v7M380,352.5h7M383.5,349v7M381,314.5h7M384.5,311v7M381,318.5h7M384.5,315v7M381,322.5h7M384.5,319v7M381,335.5h7M384.5,332v7M381,345.5h7M384.5,342v7M382,324.5h7M385.5,321v7M382,329.5h7M385.5,326v7M382,334.5h7M385.5,331v7M382,336.5h7M385.5,333v7M382,340.5h7M385.5,337v7M382,346.5h7M385.5,343v7M382,357.5h7M385.5,354v7M383,337.5h7M386.5,334v7M383,341.5h7M386.5,338v7M383,343.5h7M386.5,340v7M383,344.5h7M386.5,341v7M383,345.5h7M386.5,342v7M383,348.5h7M386.5,345v7M383,349.5h7M386.5,346v7M383,359.5h7M386.5,356v7M383,362.5h7M386.5,359v7M384,334.5h7M387.5,331v7M384,336.5h7M387.5,333v7M384,359.5h7M387.5,356v7M384,369.5h7M387.5,366v7M385,355.5h7M388.5,352v7M385,356.5h7M388.5,353v7M385,360.5h7M388.5,357v7M386,329.5h7M389.5,326v7M386,331.5h7M389.5,328v7M386,334.5h7M389.5,331v7M386,339.5h7M389.5,336v7M386,341.5h7M389.5,338v7M386,345.5h7M389.5,342v7M386,367.5h7M389.5,364v7M386,368.5h7M389.5,365v7M386,377.5h7M389.5,374v7M386,386.5h7M389.5,383v7M386,388.5h7M389.5,385v7M386,391.5h7M389.5,388v7M386,393.5h7M389.5,390v7M386,397.5h7M389.5,394v7M387,341.5h7M390.5,338v7M387,348.5h7M390.5,345v7M387,353.5h7M390.5,350v7M387,354.5h7M390.5,351v7M387,361.5h7M390.5,358v7M387,364.5h7M390.5,361v7M388,343.5h7M391.5,340v7M388,352.5h7M391.5,349v7M388,360.5h7M391.5,357v7M388,363.5h7M391.5,360v7M389,325.5h7M392.5,322v7M389,339.5h7M392.5,336v7M389,350.5h7M392.5,347v7M389,353.5h7M392.5,350v7M389,365.5h7M392.5,362v7M390,350.5h7M393.5,347v7M390,352.5h7M393.5,349v7M390,353.5h7M393.5,350v7M390,359.5h7M393.5,356v7M391,342.5h7M394.5,339v7M391,387.5h7M394.5,384v7M391,390.5h7M394.5,387v7M391,395.5h7M394.5,392v7M392,389.5h7M395.5,386v7M392,391.5h7M395.5,388v7M392,395.5h7M395.5,392v7M392,396.5h7M395.5,393v7M393,389.5h7M396.5,386v7M393,390.5h7M396.5,387v7M393,394.5h7M396.5,391v7M393,399.5h7M396.5,396v7M394,387.5h7M397.5,384v7M394,393.5h7M397.5,390v7M394,396.5h7M397.5,393v7M394,402.5h7M397.5,399v7M394,406.5h7M397.5,403v7M394,408.5h7M397.5,405v7M394,411.5h7M397.5,408v7M395,387.5h7M398.5,384v7M395,389.5h7M398.5,386v7M395,390.5h7M398.5,387v7M395,396.5h7M398.5,393v7M395,400.5h7M398.5,397v7M395,402.5h7M398.5,399v7M396,388.5h7M399.5,385v7M396,392.5h7M399.5,389v7M396,398.5h7M399.5,395v7M396,401.5h7M399.5,398v7M396,403.5h7M399.5,400v7M396,406.5h7M399.5,403v7M397,366.5h7M400.5,363v7M397,368.5h7M400.5,365v7M397,371.5h7M400.5,368v7M397,373.5h7M400.5,370v7M397,376.5h7M400.5,373v7M397,380.5h7M400.5,377v7M397,394.5h7M400.5,391v7M397,396.5h7M400.5,393v7M397,398.5h7M400.5,395v7M397,400.5h7M400.5,397v7M397,405.5h7M400.5,402v7M397,411.5h7M400.5,408v7M398,396.5h7M401.5,393v7M398,399.5h7M401.5,396v7M398,402.5h7M401.5,399v7M398,405.5h7M401.5,402v7M399,391.5h7M402.5,388v7M399,393.5h7M402.5,390v7M399,395.5h7M402.5,392v7M399,396.5h7M402.5,393v7M399,411.5h7M402.5,408v7M400,397.5h7M403.5,394v7M400,402.5h7M403.5,399v7M400,407.5h7M403.5,404v7M400,410.5h7M403.5,407v7M401,400.5h7M404.5,397v7M401,403.5h7M404.5,400v7M401,408.5h7M404.5,405v7M402,396.5h7M405.5,393v7M402,399.5h7M405.5,396v7M402,401.5h7M405.5,398v7M402,403.5h7M405.5,400v7M402,405.5h7M405.5,402v7M402,413.5h7M405.5,410v7M402,414.5h7M405.5,411v7M403,396.5h7M406.5,393v7M403,397.5h7M406.5,394v7M403,400.5h7M406.5,397v7M403,409.5h7M406.5,406v7M403,410.5h7M406.5,407v7M404,399.5h7M407.5,396v7M404,405.5h7M407.5,402v7M404,409.5h7M407.5,406v7M404,411.5h7M407.5,408v7M404,413.5h7M407.5,410v7M405,401.5h7M408.5,398v7M405,402.5h7M408.5,399v7M405,403.5h7M408.5,400v7M405,404.5h7M408.5,401v7M405,408.5h7M408.5,405v7M406,400.5h7M409.5,397v7M406,402.5h7M409.5,399v7M406,405.5h7M409.5,402v7M406,407.5h7M409.5,404v7M406,408.5h7M409.5,405v7M407,403.5h7M410.5,400v7M407,405.5h7M410.5,402v7M407,407.5h7M410.5,404v7M407,409.5h7M410.5,406v7M407,410.5h7M410.5,407v7M407,414.5h7M410.5,411v7M408,398.5h7M411.5,395v7M408,400.5h7M411.5,397v7M408,404.5h7M411.5,401v7M408,405.5h7M411.5,402v7M408,412.5h7M411.5,409v7M409,398.5h7M412.5,395v7M409,402.5h7M412.5,399v7M409,409.5h7M412.5,406v7M409,414.5h7M412.5,411v7M409,417.5h7M412.5,414v7M410,400.5h7M413.5,397v7M410,402.5h7M413.5,399v7M410,404.5h7M413.5,401v7M410,407.5h7M413.5,404v7M411,401.5h7M414.5,398v7M411,408.5h7M414.5,405v7M411,413.5h7M414.5,410v7M412,396.5h7M415.5,393v7M412,397.5h7M415.5,394v7M412,399.5h7M415.5,396v7M412,401.5h7M415.5,398v7M412,402.5h7M415.5,399v7M413,390.5h7M416.5,387v7M413,401.5h7M416.5,398v7M413,404.5h7M416.5,401v7M413,406.5h7M416.5,403v7M413,408.5h7M416.5,405v7M414,394.5h7M417.5,391v7M414,395.5h7M417.5,392v7M414,396.5h7M417.5,393v7M414,399.5h7M417.5,396v7M414,400.5h7M417.5,397v7M414,407.5h7M417.5,404v7M415,389.5h7M418.5,386v7M415,390.5h7M418.5,387v7M415,395.5h7M418.5,392v7M415,398.5h7M418.5,395v7M416,396.5h7M419.5,393v7M416,397.5h7M419.5,394v7M416,401.5h7M419.5,398v7M416,406.5h7M419.5,403v7M417,390.5h7M420.5,387v7M417,392.5h7M420.5,389v7M417,393.5h7M420.5,390v7M417,396.5h7M420.5,393v7M417,398.5h7M420.5,395v7M417,408.5h7M420.5,405v7M418,389.5h7M421.5,386v7M418,390.5h7M421.5,387v7M418,392.5h7M421.5,389v7M418,401.5h7M421.5,398v7M418,404.5h7M421.5,401v7M419,385.5h7M422.5,382v7M419,391.5h7M422.5,388v7M419,396.5h7M422.5,393v7M419,398.5h7M422.5,395v7M419,406.5h7M422.5,403v7M419,408.5h7M422.5,405v7M420,392.5h7M423.5,389v7M420,395.5h7M423.5,392v7M420,401.5h7M423.5,398v7M420,406.5h7M423.5,403v7M420,407.5h7M423.5,404v7M421,393.5h7M424.5,390v7M421,396.5h7M424.5,393v7M421,400.5h7M424.5,397v7M421,406.5h7M424.5,403v7M422,394.5h7M425.5,391v7M422,395.5h7M425.5,392v7M422,399.5h7M425.5,396v7M422,405.5h7M425.5,402v7M423,394.5h7M426.5,391v7M423,395.5h7M426.5,392v7M423,400.5h7M426.5,397v7M423,402.5h7M426.5,399v7M423,408.5h7M426.5,405v7M424,387.5h7M427.5,384v7M424,396.5h7M427.5,393v7M424,400.5h7M427.5,397v7M424,405.5h7M427.5,402v7M424,411.5h7M427.5,408v7M425,391.5h7M428.5,388v7M425,395.5h7M428.5,392v7M425,398.5h7M428.5,395v7M425,408.5h7M428.5,405v7M425,410.5h7M428.5,407v7M426,401.5h7M429.5,398v7M426,403.5h7M429.5,400v7M426,407.5h7M429.5,404v7M426,408.5h7M429.5,405v7M427,380.5h7M430.5,377v7M427,386.5h7M430.5,383v7M427,388.5h7M430.5,385v7M427,403.5h7M430.5,400v7M428,390.5h7M431.5,387v7M428,395.5h7M431.5,392v7M428,403.5h7M431.5,400v7M428,410.5h7M431.5,407v7M429,372.5h7M432.5,369v7M429,375.5h7M432.5,372v7M429,379.5h7M432.5,376v7M429,381.5h7M432.5,378v7M429,384.5h7M432.5,381v7M429,387.5h7M432.5,384v7M429,396.5h7M432.5,393v7M429,402.5h7M432.5,399v7M429,408.5h7M432.5,405v7M429,411.5h7M432.5,408v7M430,379.5h7M433.5,376v7M430,394.5h7M433.5,391v7M430,399.5h7M433.5,396v7M430,401.5h7M433.5,398v7M431,383.5h7M434.5,380v7M431,396.5h7M434.5,393v7M431,398.5h7M434.5,395v7M431,411.5h7M434.5,408v7M432,378.5h7M435.5,375v7M432,385.5h7M435.5,382v7M432,389.5h7M435.5,386v7M432,404.5h7M435.5,401v7M433,378.5h7M436.5,375v7M433,399.5h7M436.5,396v7M433,403.5h7M436.5,400v7M433,410.5h7M436.5,407v7M434,397.5h7M437.5,394v7M434,401.5h7M437.5,398v7M434,406.5h7M437.5,403v7M434,408.5h7M437.5,405v7M435,393.5h7M438.5,390v7M435,404.5h7M438.5,401v7M435,409.5h7M438.5,406v7M436,393.5h7M439.5,390v7M436,398.5h7M439.5,395v7M436,406.5h7M439.5,403v7M436,407.5h7M439.5,404v7M437,396.5h7M440.5,393v7M437,398.5h7M440.5,395v7M438,373.5h7M441.5,370v7M438,375.5h7M441.5,372v7M438,378.5h7M441.5,375v7M438,379.5h7M441.5,376v7M438,382.5h7M441.5,379v7M438,385.5h7M441.5,382v7M438,388.5h7M441.5,385v7M438,399.5h7M441.5,396v7M439,379.5h7M442.5,376v7M439,385.5h7M442.5,382v7M439,395.5h7M442.5,392v7M439,403.5h7M442.5,400v7M440,390.5h7M443.5,387v7M440,396.5h7M443.5,393v7M440,405.5h7M443.5,402v7M440,406.5h7M443.5,403v7M441,378.5h7M444.5,375v7M441,383.5h7M444.5,380v7M441,395.5h7M444.5,392v7M441,400.5h7M444.5,397v7M442,389.5h7M445.5,386v7M442,390.5h7M445.5,387v7M442,395.5h7M445.5,392v7M443,382.5h7M446.5,379v7M443,393.5h7M446.5,390v7M443,396.5h7M446.5,393v7M444,384.5h7M447.5,381v7M444,386.5h7M447.5,383v7M444,392.5h7M447.5,389v7M445,359.5h7M448.5,356v7M445,362.5h7M448.5,359v7M445,365.5h7M448.5,362v7M445,368.5h7M448.5,365v7M445,370.5h7M448.5,367v7M445,387.5h7M448.5,384v7M445,389.5h7M448.5,386v7M445,394.5h7M448.5,391v7M446,375.5h7M449.5,372v7M446,378.5h7M449.5,375v7M446,382.5h7M449.5,379v7M446,385.5h7M449.5,382v7M446,386.5h7M449.5,383v7M446,387.5h7M449.5,384v7M446,388.5h7M449.5,385v7M446,389.5h7M449.5,386v7M446,399.5h7M449.5,396v7M446,400.5h7M449.5,397v7M447,389.5h7M450.5,386v7M447,390.5h7M450.5,387v7M447,396.5h7M450.5,393v7M447,399.5h7M450.5,396v7M448,394.5h7M451.5,391v7M448,396.5h7M451.5,393v7M448,400.5h7M451.5,397v7M449,399.5h7M452.5,396v7M449,400.5h7M452.5,397v7M449,404.5h7M452.5,401v7M449,407.5h7M452.5,404v7M449,410.5h7M452.5,407v7M450,403.5h7M453.5,400v7M450,404.5h7M453.5,401v7M450,406.5h7M453.5,403v7M450,409.5h7M453.5,406v7M451,393.5h7M454.5,390v7M451,399.5h7M454.5,396v7M451,402.5h7M454.5,399v7M451,404.5h7M454.5,401v7M452,393.5h7M455.5,390v7M452,394.5h7M455.5,391v7M452,396.5h7M455.5,393v7M452,400.5h7M455.5,397v7M452,401.5h7M455.5,398v7M453,392.5h7M456.5,389v7M453,398.5h7M456.5,395v7M453,400.5h7M456.5,397v7M453,402.5h7M456.5,399v7M453,406.5h7M456.5,403v7M454,388.5h7M457.5,385v7M454,390.5h7M457.5,387v7M454,399.5h7M457.5,396v7M454,400.5h7M457.5,397v7M454,401.5h7M457.5,398v7M455,398.5h7M458.5,395v7M455,399.5h7M458.5,396v7M455,402.5h7M458.5,399v7M455,405.5h7M458.5,402v7M456,393.5h7M459.5,390v7M456,395.5h7M459.5,392v7M456,397.5h7M459.5,394v7M456,401.5h7M459.5,398v7M456,407.5h7M459.5,404v7M457,393.5h7M460.5,390v7M457,394.5h7M460.5,391v7M457,398.5h7M460.5,395v7M457,399.5h7M460.5,396v7M457,406.5h7M460.5,403v7M458,398.5h7M461.5,395v7M458,401.5h7M461.5,398v7M458,403.5h7M461.5,400v7M458,404.5h7M461.5,401v7M459,397.5h7M462.5,394v7M459,400.5h7M462.5,397v7M459,401.5h7M462.5,398v7M459,405.5h7M462.5,402v7M459,410.5h7M462.5,407v7M460,395.5h7M463.5,392v7M460,399.5h7M463.5,396v7M460,405.5h7M463.5,402v7M460,409.5h7M463.5,406v7M461,392.5h7M464.5,389v7M461,396.5h7M464.5,393v7M461,397.5h7M464.5,394v7M461,407.5h7M464.5,404v7M461,409.5h7M464.5,406v7M462,387.5h7M465.5,384v7M462,395.5h7M465.5,392v7M462,401.5h7M465.5,398v7M462,406.5h7M465.5,403v7M462,409.5h7M465.5,406v7M463,382.5h7M466.5,379v7M463,385.5h7M466.5,382v7M463,386.5h7M466.5,383v7M463,391.5h7M466.5,388v7M463,405.5h7M466.5,402v7M464,384.5h7M467.5,381v7M464,387.5h7M467.5,384v7M464,403.5h7M467.5,400v7M464,409.5h7M467.5,406v7M464,410.5h7M467.5,407v7M465,394.5h7M468.5,391v7M465,397.5h7M468.5,394v7M465,399.5h7M468.5,396v7M465,400.5h7M468.5,397v7M466,382.5h7M469.5,379v7M466,389.5h7M469.5,386v7M466,390.5h7M469.5,387v7M466,402.5h7M469.5,399v7M466,404.5h7M469.5,401v7M467,380.5h7M470.5,377v7M467,384.5h7M470.5,381v7M467,385.5h7M470.5,382v7M467,390.5h7M470.5,387v7M467,391.5h7M470.5,388v7M467,394.5h7M470.5,391v7M467,395.5h7M470.5,392v7M467,397.5h7M470.5,394v7M467,401.5h7M470.5,398v7M467,407.5h7M470.5,404v7M468,368.5h7M471.5,365v7M468,372.5h7M471.5,369v7M468,375.5h7M471.5,372v7M468,378.5h7M471.5,375v7M468,381.5h7M471.5,378v7M468,386.5h7M471.5,383v7M468,390.5h7M471.5,387v7M468,397.5h7M471.5,394v7M468,398.5h7M471.5,395v7M468,406.5h7M471.5,403v7M469,389.5h7M472.5,386v7M469,401.5h7M472.5,398v7M469,408.5h7M472.5,405v7M469,410.5h7M472.5,407v7M470,391.5h7M473.5,388v7M470,396.5h7M473.5,393v7M470,399.5h7M473.5,396v7M470,402.5h7M473.5,399v7M471,385.5h7M474.5,382v7M471,394.5h7M474.5,391v7M471,396.5h7M474.5,393v7M471,413.5h7M474.5,410v7M471,415.5h7M474.5,412v7M472,383.5h7M475.5,380v7M472,400.5h7M475.5,397v7M472,408.5h7M475.5,405v7M472,409.5h7M475.5,406v7M472,415.5h7M475.5,412v7M473,380.5h7M476.5,377v7M473,385.5h7M476.5,382v7M473,387.5h7M476.5,384v7M473,410.5h7M476.5,407v7M474,389.5h7M477.5,386v7M474,394.5h7M477.5,391v7M474,399.5h7M477.5,396v7M474,404.5h7M477.5,401v7M474,409.5h7M477.5,406v7M475,379.5h7M478.5,376v7M475,388.5h7M478.5,385v7M475,398.5h7M478.5,395v7M475,401.5h7M478.5,398v7M476,392.5h7M479.5,389v7M476,397.5h7M479.5,394v7M476,400.5h7M479.5,397v7M476,415.5h7M479.5,412v7M477,382.5h7M480.5,379v7M477,390.5h7M480.5,387v7M477,402.5h7M480.5,399v7M477,406.5h7M480.5,403v7M477,415.5h7M480.5,412v7M478,381.5h7M481.5,378v7M478,383.5h7M481.5,380v7M478,387.5h7M481.5,384v7M478,412.5h7M481.5,409v7M479,382.5h7M482.5,379v7M479,404.5h7M482.5,401v7M479,409.5h7M482.5,406v7M479,412.5h7M482.5,409v7M479,415.5h7M482.5,412v7M480,396.5h7M483.5,393v7M480,401.5h7M483.5,398v7M480,410.5h7M483.5,407v7M481,387.5h7M484.5,384v7M481,400.5h7M484.5,397v7M481,404.5h7M484.5,401v7M482,396.5h7M485.5,393v7M482,397.5h7M485.5,394v7M482,409.5h7M485.5,406v7M482,410.5h7M485.5,407v7M482,414.5h7M485.5,411v7M483,369.5h7M486.5,366v7M483,370.5h7M486.5,367v7M483,386.5h7M486.5,383v7M483,391.5h7M486.5,388v7M483,406.5h7M486.5,403v7M483,411.5h7M486.5,408v7M484,382.5h7M487.5,379v7M484,384.5h7M487.5,381v7M484,404.5h7M487.5,401v7M484,410.5h7M487.5,407v7M485,386.5h7M488.5,383v7M485,393.5h7M488.5,390v7M485,397.5h7M488.5,394v7M485,399.5h7M488.5,396v7M486,380.5h7M489.5,377v7M486,392.5h7M489.5,389v7M486,394.5h7M489.5,391v7M486,404.5h7M489.5,401v7M487,397.5h7M490.5,394v7M487,403.5h7M490.5,400v7M487,404.5h7M490.5,401v7M487,407.5h7M490.5,404v7M488,379.5h7M491.5,376v7M488,391.5h7M491.5,388v7M488,404.5h7M491.5,401v7M488,406.5h7M491.5,403v7M488,408.5h7M491.5,405v7M489,376.5h7M492.5,373v7M489,395.5h7M492.5,392v7M489,404.5h7M492.5,401v7M489,405.5h7M492.5,402v7M490,384.5h7M493.5,381v7M490,386.5h7M493.5,383v7M490,387.5h7M493.5,384v7M491,374.5h7M494.5,371v7M491,380.5h7M494.5,377v7M491,394.5h7M494.5,391v7M491,398.5h7M494.5,395v7M491,402.5h7M494.5,399v7M492,377.5h7M495.5,374v7M492,378.5h7M495.5,375v7M492,381.5h7M495.5,378v7M492,385.5h7M495.5,382v7M492,401.5h7M495.5,398v7M493,371.5h7M496.5,368v7M493,375.5h7M496.5,372v7M493,378.5h7M496.5,375v7M494,364.5h7M497.5,361v7M494,370.5h7M497.5,367v7M494,374.5h7M497.5,371v7M494,378.5h7M497.5,375v7M494,387.5h7M497.5,384v7M495,366.5h7M498.5,363v7M495,378.5h7M498.5,375v7M495,385.5h7M498.5,382v7M495,395.5h7M498.5,392v7M495,399.5h7M498.5,396v7M496,374.5h7M499.5,371v7M496,377.5h7M499.5,374v7M496,381.5h7M499.5,378v7M496,385.5h7M499.5,382v7M497,375.5h7M500.5,372v7M497,379.5h7M500.5,376v7M497,384.5h7M500.5,381v7M497,392.5h7M500.5,389v7M498,376.5h7M501.5,373v7M498,377.5h7M501.5,374v7M498,384.5h7M501.5,381v7M498,391.5h7M501.5,388v7M499,366.5h7M502.5,363v7M499,374.5h7M502.5,371v7M499,383.5h7M502.5,380v7M499,389.5h7M502.5,386v7M500,370.5h7M503.5,367v7M500,378.5h7M503.5,375v7M500,380.5h7M503.5,377v7M500,386.5h7M503.5,383v7M501,370.5h7M504.5,367v7M501,376.5h7M504.5,373v7M501,384.5h7M504.5,381v7M501,388.5h7M504.5,385v7M502,360.5h7M505.5,357v7M502,374.5h7M505.5,371v7M502,378.5h7M505.5,375v7M502,384.5h7M505.5,381v7M503,367.5h7M506.5,364v7M503,371.5h7M506.5,368v7M503,378.5h7M506.5,375v7M504,353.5h7M507.5,350v7M504,358.5h7M507.5,355v7M504,367.5h7M507.5,364v7M504,376.5h7M507.5,373v7M504,377.5h7M507.5,374v7M504,380.5h7M507.5,377v7M505,350.5h7M508.5,347v7M505,361.5h7M508.5,358v7M505,385.5h7M508.5,382v7M505,397.5h7M508.5,394v7M505,399.5h7M508.5,396v7M506,323.5h7M509.5,320v7M506,333.5h7M509.5,330v7M506,336.5h7M509.5,333v7M506,342.5h7M509.5,339v7M506,381.5h7M509.5,378v7M506,395.5h7M509.5,392v7M506,404.5h7M509.5,401v7M507,343.5h7M510.5,340v7M507,350.5h7M510.5,347v7M507,383.5h7M510.5,380v7M507,396.5h7M510.5,393v7M507,399.5h7M510.5,396v7M508,369.5h7M511.5,366v7M508,384.5h7M511.5,381v7M508,394.5h7M511.5,391v7M509,353.5h7M512.5,350v7M509,379.5h7M512.5,376v7M509,388.5h7M512.5,385v7M509,393.5h7M512.5,390v7M510,362.5h7M513.5,359v7M510,402.5h7M513.5,399v7M510,407.5h7M513.5,404v7M511,326.5h7M514.5,323v7M511,375.5h7M514.5,372v7M511,392.5h7M514.5,389v7M511,403.5h7M514.5,400v7M512,321.5h7M515.5,318v7M512,325.5h7M515.5,322v7M512,328.5h7M515.5,325v7M512,341.5h7M515.5,338v7M512,376.5h7M515.5,373v7M512,395.5h7M515.5,392v7M512,404.5h7M515.5,401v7M512,405.5h7M515.5,402v7M513,340.5h7M516.5,337v7M513,349.5h7M516.5,346v7M513,357.5h7M516.5,354v7M513,378.5h7M516.5,375v7M513,381.5h7M516.5,378v7M513,394.5h7M516.5,391v7M514,360.5h7M517.5,357v7M514,368.5h7M517.5,365v7M514,381.5h7M517.5,378v7M514,398.5h7M517.5,395v7M515,367.5h7M518.5,364v7M515,368.5h7M518.5,365v7M515,379.5h7M518.5,376v7M515,392.5h7M518.5,389v7M516,378.5h7M519.5,375v7M516,392.5h7M519.5,389v7M516,407.5h7M519.5,404v7M517,365.5h7M520.5,362v7M517,372.5h7M520.5,369v7M517,405.5h7M520.5,402v7M518,368.5h7M521.5,365v7M518,392.5h7M521.5,389v7M518,403.5h7M521.5,400v7M519,367.5h7M522.5,364v7M519,372.5h7M522.5,369v7M519,374.5h7M522.5,371v7M519,406.5h7M522.5,403v7M520,366.5h7M523.5,363v7M520,380.5h7M523.5,377v7M520,385.5h7M523.5,382v7M520,388.5h7M523.5,385v7M520,400.5h7M523.5,397v7M521,369.5h7M524.5,366v7M521,386.5h7M524.5,383v7M521,393.5h7M524.5,390v7M521,396.5h7M524.5,393v7M522,372.5h7M525.5,369v7M522,380.5h7M525.5,377v7M522,398.5h7M525.5,395v7M523,372.5h7M526.5,369v7M523,377.5h7M526.5,374v7M523,378.5h7M526.5,375v7M523,395.5h7M526.5,392v7M524,385.5h7M527.5,382v7M524,389.5h7M527.5,386v7M524,392.5h7M527.5,389v7M524,393.5h7M527.5,390v7M525,371.5h7M528.5,368v7M525,373.5h7M528.5,370v7M525,378.5h7M528.5,375v7M525,391.5h7M528.5,388v7M526,375.5h7M529.5,372v7M526,394.5h7M529.5,391v7M526,400.5h7M529.5,397v7M527,372.5h7M530.5,369v7M527,374.5h7M530.5,371v7M527,379.5h7M530.5,376v7M527,380.5h7M530.5,377v7M527,386.5h7M530.5,383v7M527,389.5h7M530.5,386v7M527,397.5h7M530.5,394v7M527,406.5h7M530.5,403v7M528,370.5h7M531.5,367v7M528,374.5h7M531.5,371v7M528,392.5h7M531.5,389v7M528,395.5h7M531.5,392v7M528,398.5h7M531.5,395v7M528,401.5h7M531.5,398v7M528,406.5h7M531.5,403v7M529,350.5h7M532.5,347v7M529,353.5h7M532.5,350v7M529,362.5h7M532.5,359v7M529,365.5h7M532.5,362v7M529,371.5h7M532.5,368v7M529,374.5h7M532.5,371v7M529,382.5h7M532.5,379v7M529,386.5h7M532.5,383v7M529,389.5h7M532.5,386v7M529,391.5h7M532.5,388v7M529,393.5h7M532.5,390v7M529,396.5h7M532.5,393v7M529,401.5h7M532.5,398v7M530,374.5h7M533.5,371v7M530,375.5h7M533.5,372v7M530,380.5h7M533.5,377v7M530,383.5h7M533.5,380v7M530,387.5h7M533.5,384v7M530,390.5h7M533.5,387v7M530,397.5h7M533.5,394v7M530,398.5h7M533.5,395v7M530,400.5h7M533.5,397v7M531,372.5h7M534.5,369v7M531,376.5h7M534.5,373v7M531,384.5h7M534.5,381v7M531,385.5h7M534.5,382v7M531,395.5h7M534.5,392v7M531,396.5h7M534.5,393v7M531,397.5h7M534.5,394v7M532,378.5h7M535.5,375v7M532,381.5h7M535.5,378v7M532,383.5h7M535.5,380v7M532,387.5h7M535.5,384v7M532,388.5h7M535.5,385v7M532,393.5h7M535.5,390v7M532,400.5h7M535.5,397v7M533,375.5h7M536.5,372v7M533,379.5h7M536.5,376v7M533,383.5h7M536.5,380v7M533,384.5h7M536.5,381v7M533,390.5h7M536.5,387v7M533,394.5h7M536.5,391v7M533,398.5h7M536.5,395v7M534,374.5h7M537.5,371v7M534,376.5h7M537.5,373v7M534,381.5h7M537.5,378v7M534,382.5h7M537.5,379v7M534,383.5h7M537.5,380v7M534,385.5h7M537.5,382v7M534,388.5h7M537.5,385v7M534,395.5h7M537.5,392v7M535,379.5h7M538.5,376v7M535,383.5h7M538.5,380v7M535,384.5h7M538.5,381v7M535,387.5h7M538.5,384v7M535,389.5h7M538.5,386v7M535,391.5h7M538.5,388v7M535,396.5h7M538.5,393v7M536,370.5h7M539.5,367v7M536,371.5h7M539.5,368v7M536,373.5h7M539.5,370v7M536,375.5h7M539.5,372v7M536,383.5h7M539.5,380v7M536,387.5h7M539.5,384v7M536,390.5h7M539.5,387v7M536,394.5h7M539.5,391v7M537,375.5h7M540.5,372v7M537,376.5h7M540.5,373v7M537,377.5h7M540.5,374v7M537,382.5h7M540.5,379v7M537,384.5h7M540.5,381v7M537,387.5h7M540.5,384v7M537,394.5h7M540.5,391v7M538,369.5h7M541.5,366v7M538,371.5h7M541.5,368v7M538,374.5h7M541.5,371v7M538,378.5h7M541.5,375v7M538,379.5h7M541.5,376v7M538,382.5h7M541.5,379v7M538,385.5h7M541.5,382v7M538,392.5h7M541.5,389v7M539,369.5h7M542.5,366v7M539,372.5h7M542.5,369v7M539,379.5h7M542.5,376v7M539,381.5h7M542.5,378v7M539,384.5h7M542.5,381v7M539,385.5h7M542.5,382v7M539,386.5h7M542.5,383v7M539,387.5h7M542.5,384v7M539,388.5h7M542.5,385v7M539,390.5h7M542.5,387v7M540,368.5h7M543.5,365v7M540,370.5h7M543.5,367v7M540,377.5h7M543.5,374v7M540,378.5h7M543.5,375v7M540,383.5h7M543.5,380v7M540,389.5h7M543.5,386v7M540,391.5h7M543.5,388v7M541,365.5h7M544.5,362v7M541,372.5h7M544.5,369v7M541,375.5h7M544.5,372v7M541,380.5h7M544.5,377v7M541,381.5h7M544.5,378v7M541,382.5h7M544.5,379v7M541,388.5h7M544.5,385v7M541,389.5h7M544.5,386v7M541,390.5h7M544.5,387v7M542,358.5h7M545.5,355v7M542,368.5h7M545.5,365v7M542,373.5h7M545.5,370v7M542,374.5h7M545.5,371v7M542,377.5h7M545.5,374v7M542,378.5h7M545.5,375v7M542,381.5h7M545.5,378v7M543,358.5h7M546.5,355v7M543,364.5h7M546.5,361v7M543,370.5h7M546.5,367v7M543,371.5h7M546.5,368v7M543,375.5h7M546.5,372v7M543,376.5h7M546.5,373v7M543,377.5h7M546.5,374v7M544,356.5h7M547.5,353v7M544,358.5h7M547.5,355v7M544,364.5h7M547.5,361v7M544,370.5h7M547.5,367v7M544,376.5h7M547.5,373v7M544,378.5h7M547.5,375v7M544,381.5h7M547.5,378v7M544,384.5h7M547.5,381v7M544,387.5h7M547.5,384v7M545,356.5h7M548.5,353v7M545,364.5h7M548.5,361v7M545,370.5h7M548.5,367v7M545,372.5h7M548.5,369v7M545,373.5h7M548.5,370v7M545,374.5h7M548.5,371v7M545,382.5h7M548.5,379v7M545,384.5h7M548.5,381v7M545,385.5h7M548.5,382v7M546,352.5h7M549.5,349v7M546,354.5h7M549.5,351v7M546,361.5h7M549.5,358v7M546,372.5h7M549.5,369v7M546,379.5h7M549.5,376v7M546,380.5h7M549.5,377v7M547,346.5h7M550.5,343v7M547,351.5h7M550.5,348v7M547,352.5h7M550.5,349v7M547,358.5h7M550.5,355v7M547,361.5h7M550.5,358v7M547,364.5h7M550.5,361v7M547,365.5h7M550.5,362v7M547,374.5h7M550.5,371v7M547,377.5h7M550.5,374v7M548,358.5h7M551.5,355v7M548,364.5h7M551.5,361v7M548,368.5h7M551.5,365v7M548,376.5h7M551.5,373v7M548,380.5h7M551.5,377v7M548,393.5h7M551.5,390v7M548,399.5h7M551.5,396v7M548,401.5h7M551.5,398v7M549,361.5h7M552.5,358v7M549,365.5h7M552.5,362v7M549,370.5h7M552.5,367v7M549,371.5h7M552.5,368v7M549,375.5h7M552.5,372v7M549,383.5h7M552.5,380v7M549,391.5h7M552.5,388v7M549,394.5h7M552.5,391v7M549,395.5h7M552.5,392v7M549,398.5h7M552.5,395v7M549,399.5h7M552.5,396v7M550,361.5h7M553.5,358v7M550,362.5h7M553.5,359v7M550,364.5h7M553.5,361v7M550,377.5h7M553.5,374v7M550,381.5h7M553.5,378v7M550,391.5h7M553.5,388v7M550,396.5h7M553.5,393v7M550,399.5h7M553.5,396v7M550,409.5h7M553.5,406v7M550,416.5h7M553.5,413v7M551,367.5h7M554.5,364v7M551,371.5h7M554.5,368v7M551,373.5h7M554.5,370v7M551,396.5h7M554.5,393v7M551,399.5h7M554.5,396v7M551,402.5h7M554.5,399v7M551,407.5h7M554.5,404v7M551,409.5h7M554.5,406v7M552,402.5h7M555.5,399v7M552,403.5h7M555.5,400v7M552,404.5h7M555.5,401v7M552,413.5h7M555.5,410v7M553,392.5h7M556.5,389v7M553,404.5h7M556.5,401v7M553,408.5h7M556.5,405v7M553,410.5h7M556.5,407v7M553,412.5h7M556.5,409v7M554,397.5h7M557.5,394v7M554,407.5h7M557.5,404v7M554,408.5h7M557.5,405v7M554,410.5h7M557.5,407v7M554,418.5h7M557.5,415v7M555,397.5h7M558.5,394v7M555,399.5h7M558.5,396v7M555,408.5h7M558.5,405v7M555,409.5h7M558.5,406v7M556,378.5h7M559.5,375v7M556,381.5h7M559.5,378v7M556,383.5h7M559.5,380v7M556,389.5h7M559.5,386v7M556,398.5h7M559.5,395v7M556,399.5h7M559.5,396v7M556,403.5h7M559.5,400v7M556,416.5h7M559.5,413v7M557,391.5h7M560.5,388v7M557,407.5h7M560.5,404v7M557,414.5h7M560.5,411v7M557,418.5h7M560.5,415v7M558,393.5h7M561.5,390v7M558,402.5h7M561.5,399v7M558,407.5h7M561.5,404v7M558,408.5h7M561.5,405v7M558,418.5h7M561.5,415v7M559,394.5h7M562.5,391v7M559,399.5h7M562.5,396v7M559,400.5h7M562.5,397v7M559,407.5h7M562.5,404v7M559,417.5h7M562.5,414v7M560,398.5h7M563.5,395v7M560,406.5h7M563.5,403v7M560,414.5h7M563.5,411v7M560,418.5h7M563.5,415v7M561,390.5h7M564.5,387v7M561,391.5h7M564.5,388v7M561,392.5h7M564.5,389v7M561,400.5h7M564.5,397v7M561,410.5h7M564.5,407v7M562,386.5h7M565.5,383v7M562,390.5h7M565.5,387v7M562,401.5h7M565.5,398v7M562,407.5h7M565.5,404v7M562,416.5h7M565.5,413v7M562,417.5h7M565.5,414v7M563,400.5h7M566.5,397v7M563,403.5h7M566.5,400v7M563,407.5h7M566.5,404v7M563,409.5h7M566.5,406v7M563,413.5h7M566.5,410v7M564,318.5h7M567.5,315v7M564,326.5h7M567.5,323v7M564,338.5h7M567.5,335v7M564,352.5h7M567.5,349v7M564,396.5h7M567.5,393v7M564,399.5h7M567.5,396v7M564,407.5h7M567.5,404v7M564,411.5h7M567.5,408v7M564,413.5h7M567.5,410v7M565,298.5h7M568.5,295v7M565,303.5h7M568.5,300v7M565,319.5h7M568.5,316v7M565,331.5h7M568.5,328v7M565,372.5h7M568.5,369v7M565,394.5h7M568.5,391v7M565,396.5h7M568.5,393v7M565,401.5h7M568.5,398v7M565,404.5h7M568.5,401v7M565,415.5h7M568.5,412v7M566,315.5h7M569.5,312v7M566,318.5h7M569.5,315v7M566,336.5h7M569.5,333v7M566,340.5h7M569.5,337v7M566,344.5h7M569.5,341v7M566,349.5h7M569.5,346v7M566,405.5h7M569.5,402v7M566,407.5h7M569.5,404v7M566,414.5h7M569.5,411v7M567,355.5h7M570.5,352v7M567,370.5h7M570.5,367v7M567,374.5h7M570.5,371v7M567,386.5h7M570.5,383v7M567,407.5h7M570.5,404v7M567,412.5h7M570.5,409v7M567,413.5h7M570.5,410v7M568,371.5h7M571.5,368v7M568,379.5h7M571.5,376v7M568,383.5h7M571.5,380v7M568,397.5h7M571.5,394v7M568,410.5h7M571.5,407v7M569,373.5h7M572.5,370v7M569,394.5h7M572.5,391v7M569,398.5h7M572.5,395v7M569,401.5h7M572.5,398v7M569,414.5h7M572.5,411v7M570,379.5h7M573.5,376v7M570,397.5h7M573.5,394v7M570,402.5h7M573.5,399v7M570,405.5h7M573.5,402v7M570,411.5h7M573.5,408v7M571,371.5h7M574.5,368v7M571,389.5h7M574.5,386v7M571,399.5h7M574.5,396v7M571,415.5h7M574.5,412v7M572,370.5h7M575.5,367v7M572,381.5h7M575.5,378v7M572,401.5h7M575.5,398v7M572,414.5h7M575.5,411v7M573,366.5h7M576.5,363v7M573,388.5h7M576.5,385v7M573,404.5h7M576.5,401v7M573,406.5h7M576.5,403v7M574,371.5h7M577.5,368v7M574,383.5h7M577.5,380v7M574,385.5h7M577.5,382v7M574,395.5h7M577.5,392v7M574,408.5h7M577.5,405v7M575,360.5h7M578.5,357v7M575,362.5h7M578.5,359v7M575,386.5h7M578.5,383v7M575,390.5h7M578.5,387v7M576,374.5h7M579.5,371v7M576,382.5h7M579.5,379v7M576,391.5h7M579.5,388v7M576,405.5h7M579.5,402v7M577,358.5h7M580.5,355v7M577,365.5h7M580.5,362v7M577,377.5h7M580.5,374v7M577,398.5h7M580.5,395v7M578,359.5h7M581.5,356v7M578,360.5h7M581.5,357v7M578,375.5h7M581.5,372v7M578,381.5h7M581.5,378v7M578,393.5h7M581.5,390v7M579,359.5h7M582.5,356v7M579,363.5h7M582.5,360v7M579,381.5h7M582.5,378v7M579,401.5h7M582.5,398v7M579,406.5h7M582.5,403v7M580,319.5h7M583.5,316v7M580,326.5h7M583.5,323v7M580,333.5h7M583.5,330v7M580,344.5h7M583.5,341v7M580,362.5h7M583.5,359v7M580,377.5h7M583.5,374v7M580,379.5h7M583.5,376v7M580,392.5h7M583.5,389v7M581,331.5h7M584.5,328v7M581,370.5h7M584.5,367v7M581,371.5h7M584.5,368v7M581,374.5h7M584.5,371v7M581,379.5h7M584.5,376v7M581,396.5h7M584.5,393v7M582,383.5h7M585.5,380v7M582,394.5h7M585.5,391v7
"/></g>
<rect x="84.5" y="57.5" width="525" height="362" fill="none" stroke="#000" stroke-width="1" shape-rendering="crispEdges"/>
<text x="70.6" y="424" text-anchor="end">0</text>
<text x="70.6" y="379" text-anchor="end">0.2</text>
<text x="70.6" y="333" text-anchor="end">0.4</text>
<text x="70.6" y="288" text-anchor="end">0.6</text>
<text x="70.6" y="243" text-anchor="end">0.8</text>
<text x="70.6" y="198" text-anchor="end">1</text>
<text x="70.6" y="152" text-anchor="end">1.2</text>
<text x="70.6" y="107" text-anchor="end">1.4</text>
<text x="70.6" y="62" text-anchor="end">1.6</text>
<text x="84.5" y="443" text-anchor="middle">0</text>
<text x="193.5" y="443" text-anchor="middle">5</text>
<text x="303.5" y="443" text-anchor="middle">10</text>
<text x="412.5" y="443" text-anchor="middle">15</text>
<text x="522.5" y="443" text-anchor="middle">20</text>
<text x="345" y="33" text-anchor="middle" style="letter-spacing:0.075px">Day 114 of 2024, SRMTID for receiver stpm</text>
<text x="344.6" y="470" text-anchor="middle" style="letter-spacing:-0.06px">GPS time / hours</text>
<text transform="translate(19,239.5) rotate(-90)" text-anchor="middle">SRMTID / TECUs</text>
</svg></body></html>
